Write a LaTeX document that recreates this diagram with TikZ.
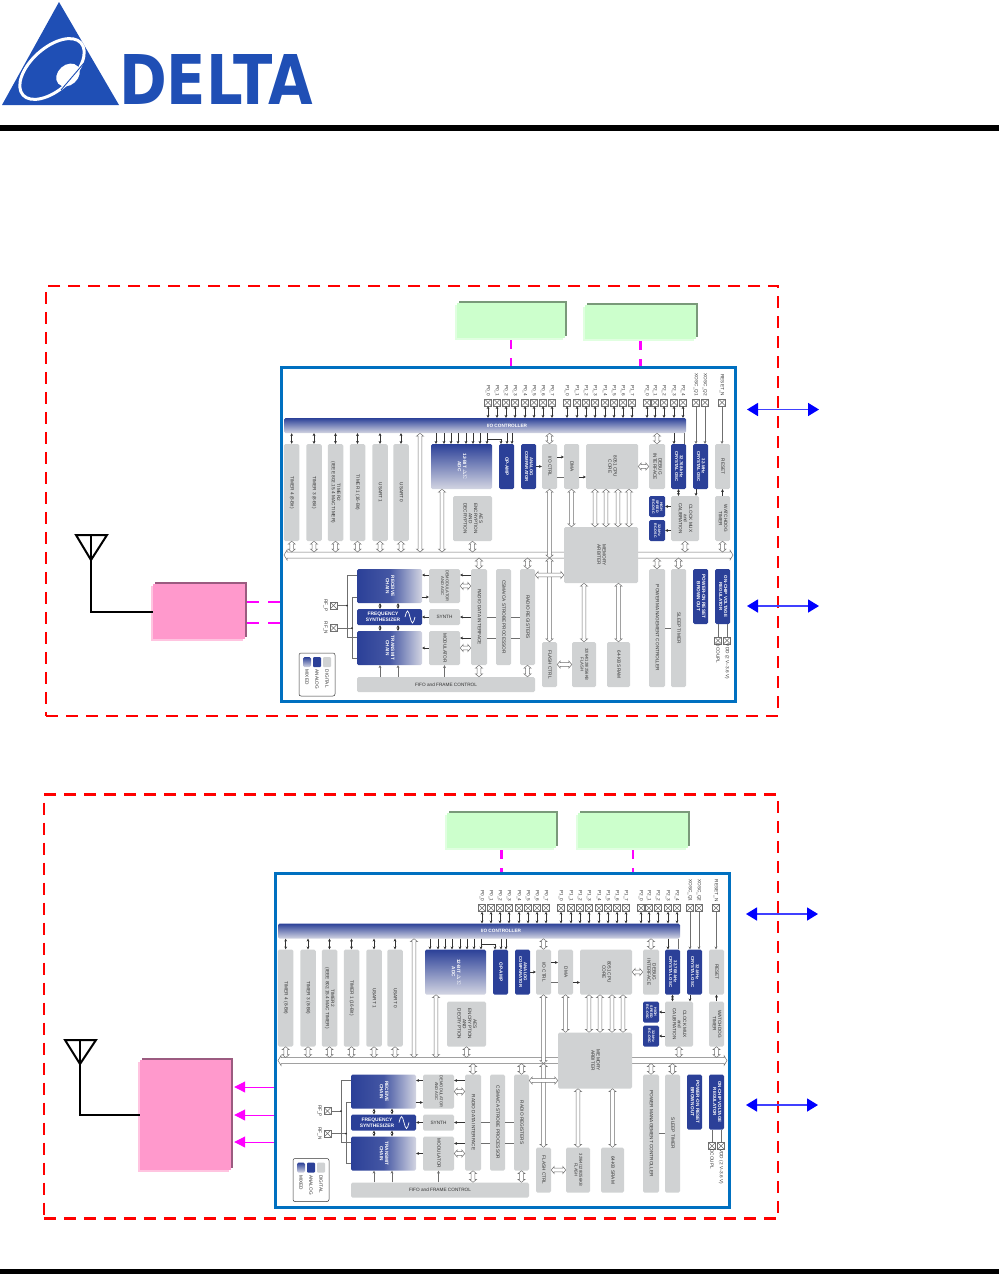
\documentclass[tikz,border=0pt]{standalone}
\usepackage{fontspec}
\usepackage{graphicx}
\setmainfont{Liberation Sans}
\newfontfamily\logofont{DejaVu Sans}
\usetikzlibrary{arrows.meta,positioning,calc,shadows}
\definecolor{cLogo}{HTML}{1F4FB5}
\definecolor{cFrame}{HTML}{0070C0}
\definecolor{cGray}{HTML}{D0D2D3}
\definecolor{cNavy}{HTML}{2B4098}
\definecolor{cFade}{HTML}{D3D5E2}
\definecolor{cText}{HTML}{333333}
\definecolor{cLine}{HTML}{6F6F6F}
\definecolor{cMag}{HTML}{FF00FF}
\definecolor{cPink}{HTML}{FF99CC}
\definecolor{cPinkHi}{HTML}{FFC4E0}
\definecolor{cPinkDk}{HTML}{9B5B80}
\definecolor{cGreen}{HTML}{CCFFCC}
\definecolor{cGreenHi}{HTML}{E0FFE0}
\definecolor{cGreenDk}{HTML}{7A997A}
\newcommand{\chipfont}{\fontsize{4.7}{5.2}\selectfont}
\newcommand{\rotlab}[1]{\rotatebox{-90}{\begin{tabular}{@{}c@{}}#1\end{tabular}}}
\tikzset{
    gblk/.style={fill=cGray, rounded corners=1.5, inner sep=0, text=cText, align=center, font=\chipfont},
    nblk/.style={fill=cNavy, rounded corners=1.5, inner sep=0, text=white, align=center, font=\chipfont\bfseries},
    vgrad/.style={top color=cNavy, bottom color=cFade, rounded corners=1.5, inner sep=0, text=white, align=center, font=\chipfont\bfseries},
    hgrad/.style={left color=cNavy, right color=cFade, middle color=cNavy!85!cFade, rounded corners=1.5, inner sep=0, text=white, align=center, font=\chipfont\bfseries},
    sarr/.style={-{Stealth[length=2.8,width=2.8]}, line width=.5, draw=cText},
    barr/.style={{Stealth[length=2.8,width=2.8]}-{Stealth[length=2.8,width=2.8]}, line width=.5, draw=cText},
    pline/.style={line width=.5, draw=cLine},
    hollw/.style 2 args={draw=cLine, fill=white, line width=.5, to path={
        -- ($(\tikztostart)!3pt!(\tikztotarget)!#2!90:(\tikztotarget)$)
        -- ($(\tikztostart)!3pt!(\tikztotarget)!#1!90:(\tikztotarget)$)
        -- ($(\tikztotarget)!3pt!(\tikztostart)!#1!-90:(\tikztostart)$)
        -- ($(\tikztotarget)!3pt!(\tikztostart)!#2!-90:(\tikztostart)$)
        -- (\tikztotarget)
        -- ($(\tikztotarget)!3pt!(\tikztostart)!#2!90:(\tikztostart)$)
        -- ($(\tikztotarget)!3pt!(\tikztostart)!#1!90:(\tikztostart)$)
        -- ($(\tikztostart)!3pt!(\tikztotarget)!#1!-90:(\tikztotarget)$)
        -- ($(\tikztostart)!3pt!(\tikztotarget)!#2!-90:(\tikztotarget)$)
        -- cycle}},
    holl/.style={hollw={1.8pt}{3.6pt}},
    busl/.style={hollw={3pt}{5pt}},
    padbox/.style={draw=cLine, line width=.5, minimum size=7, inner sep=0, path picture={\draw[cLine, line width=.4] (path picture bounding box.north west) -- (path picture bounding box.south east) (path picture bounding box.north east) -- (path picture bounding box.south west);}},
    padlab/.style={rotate=-90, inner sep=.5, text=cText, font=\chipfont},
    bevel/.style 2 args={general shadow={shadow xshift=2, shadow yshift=-2, fill=#2}, general shadow={shadow xshift=-2, shadow yshift=2, fill=#1}},
    pinkbox/.style={fill=cPink, inner sep=0, bevel={cPinkHi}{cPinkDk}},
    greenbox/.style={fill=cGreen, inner sep=0, bevel={cGreenHi}{cGreenDk}},
    reddash/.style={draw=red, line width=2.4, dash pattern=on 12 off 8, inner sep=0},
    mdash/.style={draw=cMag, line width=2.2, dash pattern=on 12 off 9},
    vdash/.style={draw=cMag, line width=2.2, dash pattern=on 9 off 9, shorten <=2},
    marr/.style={-{Triangle[length=11,width=11,color=cMag]}, draw=cMag, line width=1, shorten >=3},
    bluearr/.style={{Triangle[length=11,width=13,color=blue]}-{Triangle[length=11,width=13,color=blue]}, draw=blue!75, line width=1.6},
    aerial/.style={draw=black, line width=2},
}
\newcommand{\chipblock}{
\node[draw=cFrame, line width=3, minimum width=454, minimum height=334, inner sep=0] (chip) at (508.5,534.5) {};
\coordinate (bustop) at (284,552);
\coordinate (busbot) at (284,558);
\coordinate (busl) at (284,555);
\coordinate (busr) at (733,555);
\draw[busl] (busl.center) to (busr.center);

% io bar and pads
\node[vgrad, minimum width=402, minimum height=15] (iobar) at (485,425.5) {};
\node[text=white, font=\chipfont\bfseries, inner sep=0] (iolab) at (507,425.8) {I/O CONTROLLER};
\foreach \n/\x/\t in {p00/488/P0\_0, p01/497/P0\_1, p02/506/P0\_2, p03/515/P0\_3, p04/525/P0\_4, p05/534/P0\_5, p06/543/P0\_6, p07/552/P0\_7, p10/567/P1\_0, p11/577/P1\_1, p12/586/P1\_2, p13/595/P1\_3, p14/605/P1\_4, p15/614/P1\_5, p16/623/P1\_6, p17/632/P1\_7, p20/647/P2\_0, p21/655/P2\_1, p22/664/P2\_2, p23/674/P2\_3, p24/683/P2\_4}{
    \node[padbox] (\n) at (\x,402.5) {};
    \node[padlab, anchor=east] (lab\n) at ($(\n.north)+(0,-2)$) {\t};
    \draw[barr] (\n.south) -- (\n.south |- iobar.north);
}
\node[padbox] (xq1) at (696,402.5) {};
\node[padbox] (xq2) at (705,402.5) {};
\node[padbox] (rstn) at (722,402.5) {};
\node[padlab, anchor=east] (labxq1) at ($(xq1.north)+(0,-2)$) {XOSC\_Q1};
\node[padlab, anchor=east] (labxq2) at ($(xq2.north)+(0,-2)$) {XOSC\_Q2};
\node[padlab, anchor=east] (labrstn) at ($(rstn.north)+(0,-2)$) {RESET\_N};

% upper blocks
\node[gblk, minimum width=15.5, minimum height=97] (timer4) at (291.7,492.5) {\rotlab{TIMER 4 (8-Bit)}};
\node[gblk, minimum width=15.5, minimum height=97] (timer3) at (314,492.5) {\rotlab{TIMER 3 (8-Bit)}};
\node[gblk, minimum width=15.5, minimum height=97] (timer2) at (335.5,492.5) {\rotlab{TIMER2\\(IEEE 802.15.4 MAC TIMER)}};
\node[gblk, minimum width=15.5, minimum height=97] (timer1) at (357.5,492.5) {\rotlab{TIMER 1 (16-Bit)}};
\node[gblk, minimum width=15.5, minimum height=97] (usart1) at (380,492.5) {\rotlab{USART 1}};
\node[gblk, minimum width=15.5, minimum height=97] (usart0) at (401,492.5) {\rotlab{USART 0}};
\node[vgrad, minimum width=61, minimum height=45] (adc) at (461.5,466.5) {\rotlab{12-BIT $\Delta\Sigma$\\ADC}};
\node[nblk, minimum width=15, minimum height=45] (opamp) at (506.5,466.5) {\rotlab{OP-AMP}};
\node[nblk, minimum width=15, minimum height=45, font=\fontsize{4.3}{4.9}\selectfont\bfseries] (anacomp) at (528.5,466.5) {\rotlab{ANALOG\\COMPARATOR}};
\node[gblk, minimum width=15, minimum height=45] (ioctrl) at (549.5,466.5) {\rotlab{I/O CTRL}};
\node[gblk, minimum width=15, minimum height=45] (dma) at (571.5,466.5) {\rotlab{DMA}};
\node[gblk, minimum width=52, minimum height=45] (core) at (612,466.5) {\rotlab{8051 CPU\\CORE}};
\node[gblk, minimum width=16, minimum height=45] (debug) at (657,466.5) {\rotlab{DEBUG\\INTERFACE}};
\node[nblk, minimum width=15, minimum height=45, font=\fontsize{4.3}{4.9}\selectfont\bfseries] (xtalk) at (678.5,466.5) {\rotlab{32.768-kHz\\CRYSTAL OSC}};
\node[nblk, minimum width=15, minimum height=45, font=\fontsize{4.3}{4.9}\selectfont\bfseries] (xtalm) at (700.5,466.5) {\rotlab{32-MHz\\CRYSTAL OSC}};
\node[gblk, minimum width=15, minimum height=45] (rst) at (722.5,466.5) {\rotlab{RESET}};
\node[gblk, minimum width=39, minimum height=45] (aes) at (472.5,518.5) {\rotlab{AES\\ENCRYPTION\\AND\\DECRYPTION}};
\node[nblk, minimum width=16, minimum height=21, font=\fontsize{3.6}{4}\selectfont\bfseries] (hsosc) at (657,506.5) {\rotlab{HIGH\\SPEED\\RC-OSC}};
\node[nblk, minimum width=16, minimum height=21, font=\fontsize{3.6}{4}\selectfont\bfseries] (lsosc) at (657,530.5) {\rotlab{32-kHz\\RC-OSC}};
\node[gblk, minimum width=28, minimum height=45] (clkmux) at (685,518.5) {\rotlab{CLOCK MUX\\and\\CALIBRATION}};
\node[gblk, minimum width=15, minimum height=45] (wdt) at (722.5,518.5) {\rotlab{WATCHDOG\\TIMER}};
\node[gblk, minimum width=74, minimum height=56] (arbiter) at (601,555) {\rotlab{MEMORY\\ARBITER}};

% radio and memory blocks
\node[hgrad, minimum width=65, minimum height=34] (rxchain) at (389.5,586) {\rotlab{RECEIVE\\CHAIN}};
\node[nblk, minimum width=65, minimum height=16, align=center, font=\fontsize{4.9}{5.6}\selectfont\bfseries, text width=65] (fsyn) at (389.5,617) {\hspace*{-13pt}FREQUENCY\\\hspace*{-13pt}SYNTHESIZER};
\node[hgrad, minimum width=65, minimum height=34] (txchain) at (389.5,648) {\rotlab{TRANSMIT\\CHAIN}};
\draw[white, line width=.7] (405,617) sin (407.5,611) cos (410,617) sin (412.5,623) cos (415,617);
\node[gblk, minimum width=31, minimum height=34, font=\fontsize{4.1}{4.8}\selectfont] (demod) at (444.5,586) {\rotlab{DEMODULATOR\\AND AGC}};
\node[gblk, minimum width=31, minimum height=16] (synth) at (444.5,617) {SYNTH};
\node[gblk, minimum width=31, minimum height=34] (modul) at (444.5,648) {\rotlab{MODULATOR}};
\node[gblk, minimum width=16, minimum height=96] (rdi) at (479,617) {\rotlab{RADIO DATA INTERFACE}};
\node[gblk, minimum width=15, minimum height=96] (csma) at (503.5,617) {\rotlab{CSMA/CA STROBE PROCESSOR}};
\node[gblk, minimum width=15, minimum height=96] (regs) at (527.5,617) {\rotlab{RADIO REGISTERS}};
\node[gblk, minimum width=178, minimum height=15] (fifo) at (446,684.5) {FIFO and FRAME CONTROL};
\node[gblk, minimum width=15, minimum height=45] (flashctl) at (549.5,664.5) {\rotlab{FLASH CTRL}};
\node[gblk, minimum width=24, minimum height=45, font=\fontsize{4.2}{4.9}\selectfont] (flash) at (584,664.5) {\rotlab{32/64/128/256KB\\FLASH}};
\node[gblk, minimum width=23, minimum height=45] (sram) at (618.5,664.5) {\rotlab{64-KB SRAM}};
\node[gblk, minimum width=16, minimum height=118] (pmc) at (657,628) {\rotlab{POWER MANAGEMENT CONTROLLER}};
\node[gblk, minimum width=15, minimum height=118] (sleep) at (678.5,628) {\rotlab{SLEEP TIMER}};
\node[nblk, minimum width=15, minimum height=55] (por) at (700.5,596.5) {\rotlab{POWER-ON RESET\\BROWN OUT}};
\node[nblk, minimum width=15, minimum height=55, font=\fontsize{4.5}{5}\selectfont\bfseries] (vreg) at (722.5,596.5) {\rotlab{ON-CHIP VOLTAGE\\REGULATOR}};

% rf pads, supply pads, legend
\node[padbox] (rfp) at (333.5,605.5) {};
\node[padbox] (rfn) at (333.5,628) {};
\node[padlab] (labrfp) at (325.5,605.5) {RF\_P};
\node[padlab] (labrfn) at (325.5,628) {RF\_N};
\node[padbox] (dcoupl) at (718,640.5) {};
\node[padbox] (vdd) at (727,640.5) {};
\node[padlab, anchor=west] (labdc) at ($(dcoupl.south)+(0,-1)$) {DCOUPL};
\node[padlab, anchor=west] (labvdd) at ($(vdd.south)+(0,-1)$) {VDD (2 V--3.6 V)};
\node[draw=cText, line width=.5, rounded corners=2, fill=white, minimum width=36, minimum height=43, inner sep=0] (legend) at (317,674.5) {};
\node[vgrad, minimum width=8, minimum height=10] (swmix) at (307,662) {};
\node[fill=cNavy, rounded corners=1, minimum width=8, minimum height=10, inner sep=0] (swana) at (317,662) {};
\node[fill=cGray, rounded corners=1, minimum width=8, minimum height=10, inner sep=0] (swdig) at (327,662) {};
\node[padlab, anchor=west] (labmix) at (307,669) {MIXED};
\node[padlab, anchor=west] (labana) at (317,669) {ANALOG};
\node[padlab, anchor=west] (labdig) at (327,669) {DIGITAL};

% hollow connectors
\foreach \n in {timer4,timer3,timer2,timer1,usart1,usart0}{
    \draw[barr] (\n.north) -- (\n.north |- iobar.south);
    \draw[holl] (\n.south) to (\n.south |- bustop);
}
\draw[holl] (420,0 |- iobar.south) to (420,0 |- bustop);
\draw[holl] (442,0 |- adc.south) to (442,0 |- bustop);
\draw[holl] (aes.south) to (aes.south |- bustop);
\draw[holl] (ioctrl.north) to (ioctrl.north |- iobar.south);
\draw[holl] (ioctrl.south) to (ioctrl.south |- busbot);
\draw[holl] (debug.north) to (debug.north |- iobar.south);
\draw[holl] (dma.south) to (dma.south |- arbiter.north);
\foreach \x in {595,606,618,629}{
    \draw[holl] (\x,0 |- core.south) to (\x,0 |- arbiter.north);
}
\draw[holl] (core.east) to (debug.west);
\draw[holl] (clkmux.south) to (clkmux.south |- bustop);
\draw[holl] (wdt.south) to (wdt.south |- bustop);
\draw[holl] (rdi.north) to (rdi.north |- busbot);
\draw[holl] (rdi.south) to (rdi.south |- fifo.north);
\draw[holl] (regs.north) to (regs.north |- busbot);
\draw[holl] (regs.south) to (regs.south |- fifo.north);
\draw[holl] (flashctl.north) to (flashctl.north |- busbot);
\draw[holl] (regs.east |- 0,575) to (arbiter.west |- 0,575);
\draw[holl] (flash.north) to (flash.north |- arbiter.south);
\draw[holl] (sram.north) to (sram.north |- arbiter.south);
\draw[holl] (flashctl.east) to (flash.west);
\draw[holl] (pmc.north) to (pmc.north |- busbot);
\draw[holl] (sleep.north) to (sleep.north |- busbot);
\draw[holl] (demod.east) to (rdi.west |- demod.east);
\draw[holl] (modul.east) to (rdi.west |- modul.east);

% thin connectors
\foreach \x in {436,444,451,458,466,473,480,487}{
    \draw[sarr] (\x,0 |- iobar.south) -- (\x,0 |- adc.north);
}
\draw[sarr] (487,439) -| (501,0 |- opamp.north);
\draw[sarr] (507,0 |- iobar.south) -- (507,0 |- opamp.north);
\draw[sarr] (512,0 |- iobar.south) -- (512,0 |- opamp.north);
\draw[sarr] (674,0 |- iobar.south) -- (674,0 |- xtalk.north);
\draw[pline] (684,0 |- iobar.south) -- (684,0 |- xtalk.north);
\draw[sarr, draw=cLine] (xq1.south) -- (xq1.south |- xtalm.north);
\draw[sarr, draw=cLine] (xq2.south) -- (xq2.south |- xtalm.north);
\draw[sarr, draw=cLine] (rstn.south) -- (rstn.south |- rst.north);
\draw[sarr] (anacomp.east) -- (ioctrl.west);
\draw[sarr] (ioctrl.east |- 0,457) -- (dma.west |- 0,457);
\draw[pline] (ioctrl.east |- 0,477) -- (dma.west |- 0,477);
\draw[sarr] (dma.east |- 0,477) -- (core.west |- 0,477);
\draw[barr] (xtalk.south) -- (xtalk.south |- clkmux.north);
\draw[sarr] (696,0 |- xtalm.south) -- (696,0 |- clkmux.north);
\draw[sarr] (wdt.north) -- (rst.south);
\draw[sarr] (clkmux.west |- hsosc.east) -- (hsosc.east);
\draw[sarr] (clkmux.west |- lsosc.east) -- (lsosc.east);
\draw[pline] (pmc.east) -- (sleep.west);
\draw[pline] (vreg.south -| dcoupl.north) -- (dcoupl.north);
\draw[pline] (vreg.south -| vdd.north) -- (vdd.north);

% radio nets
\draw[pline] (rxchain.west |- 0,575) -| (347,637) -- (txchain.west |- 0,637);
\draw[pline] (rxchain.west |- 0,597) -| (352,658) -- (txchain.west |- 0,658);
\draw[pline] (rfp.east) -- (347,0 |- rfp.east);
\draw[pline] (rfn.east) -- (352,0 |- rfn.east);
\fill[cText] (347,0 |- rfp.east) circle (1);
\fill[cText] (352,0 |- rfn.east) circle (1);
\foreach \x in {380,398}{
    \draw[barr] (\x,0 |- rxchain.south) -- (\x,0 |- fsyn.north);
    \draw[barr] (\x,0 |- fsyn.south) -- (\x,0 |- txchain.north);
    \draw[sarr, draw=cLine] (\x,0 |- fifo.north) -- (\x,0 |- txchain.south);
}
\draw[sarr, draw=cLine] (modul.south |- fifo.north) -- (modul.south);
\draw[sarr] (demod.west |- 0,575) -- (rxchain.east |- 0,575);
\draw[sarr] (rxchain.east |- 0,597) -- (demod.west |- 0,597);
\draw[sarr] (synth.west) -- (fsyn.east);
\draw[sarr] (modul.west) -- (txchain.east);
\draw[sarr] (rdi.west |- 0,575) -- (demod.east |- 0,575);
\draw[sarr] (rdi.west) -- (synth.east);
\draw[sarr] (rdi.west |- 0,638) -- (modul.east |- 0,638);
\draw[pline] (rdi.east) -- (csma.west);
\draw[pline] (rdi.east |- 0,638) -- (csma.west |- 0,638);
\draw[pline] (csma.east) -- (regs.west);
\draw[pline] (csma.east |- 0,638) -- (regs.west |- 0,638);
}
\begin{document}
\begin{tikzpicture}[x=1pt, y=-1pt]
\useasboundingbox (0,0) rectangle (999,1274);

% logo and page rules
\fill[cLogo] (59,2) -- (119,105) -- (2,105) -- cycle;
\draw[white, line width=3] (52,69) ellipse [x radius=39, y radius=21, rotate=42];
\fill[white] (68,75) ellipse [x radius=13, y radius=10, rotate=42];
\draw[cLogo, line width=.9] (61,90) -- (84,63);
\node[inner sep=0, anchor=south west, text=cLogo, transform shape, xscale=.84, font=\fontsize{68.6}{70}\logofont\bfseries] (logotext) at (119,105) {DELTA};
\fill[black] (0,125) rectangle (999,131);
\fill[black] (0,1269) rectangle (999,1274);

% upper unit
\node[reddash, minimum width=732, minimum height=430] (zone1) at (412,501) {};
\begin{scope}[name prefix=a-]
\chipblock
\end{scope}
\node[greenbox, minimum width=108, minimum height=35] (green1) at (511,320.5) {};
\node[greenbox, minimum width=111, minimum height=34] (green2) at (640.5,322) {};
\node[pinkbox, minimum width=92, minimum height=55] (pink1) at (199,611.5) {};
\draw[vdash] (green1.south) -- (green1.south |- a-chip.north);
\draw[vdash] (green2.south) -- (green2.south |- a-chip.north);
\draw[mdash, shorten <=2] (pink1.east |- 0,602) -- (a-chip.west |- 0,602);
\draw[mdash, shorten <=2] (pink1.east |- 0,623) -- (a-chip.west |- 0,623);
\coordinate (ant1) at (91,560);
\draw[aerial, line join=miter] (76,535) -- (107,535) -- (ant1) -- cycle;
\draw[aerial] (91,535) -- (ant1) |- (pink1.west);
\coordinate (ioa1) at (747,409.5);
\coordinate (ioa2) at (819,409.5);
\coordinate (ioa3) at (747,606);
\coordinate (ioa4) at (819,606);
\draw[bluearr] (ioa1) -- (ioa2);
\draw[bluearr] (ioa3) -- (ioa4);

% lower unit
\node[reddash, minimum width=734, minimum height=424] (zone2) at (411,1006.5) {};
\begin{scope}[shift={(-6,505.5)}, name prefix=b-]
\chipblock
\end{scope}
\node[greenbox, minimum width=109, minimum height=35] (green3) at (501.5,830.5) {};
\node[greenbox, minimum width=110, minimum height=35] (green4) at (633,830.5) {};
\node[pinkbox, minimum width=91, minimum height=110] (pink2) at (185.5,1115) {};
\draw[vdash] (green3.south) -- (green3.south |- b-chip.north);
\draw[vdash] (green4.south) -- (green4.south |- b-chip.north);
\draw[marr] (b-chip.west |- 0,1087) -- (pink2.east |- 0,1087);
\draw[marr] (b-chip.west |- 0,1115) -- (pink2.east |- 0,1115);
\draw[marr] (b-chip.west |- 0,1142) -- (pink2.east |- 0,1142);
\coordinate (ant2) at (80,1064);
\draw[aerial, line join=miter] (65,1040) -- (96,1040) -- (ant2) -- cycle;
\draw[aerial] (80,1040) -- (ant2) |- (pink2.west);
\coordinate (iob1) at (746,914);
\coordinate (iob2) at (818,914);
\coordinate (iob3) at (746,1105);
\coordinate (iob4) at (818,1105);
\draw[bluearr] (iob1) -- (iob2);
\draw[bluearr] (iob3) -- (iob4);
\end{tikzpicture}
\end{document}
